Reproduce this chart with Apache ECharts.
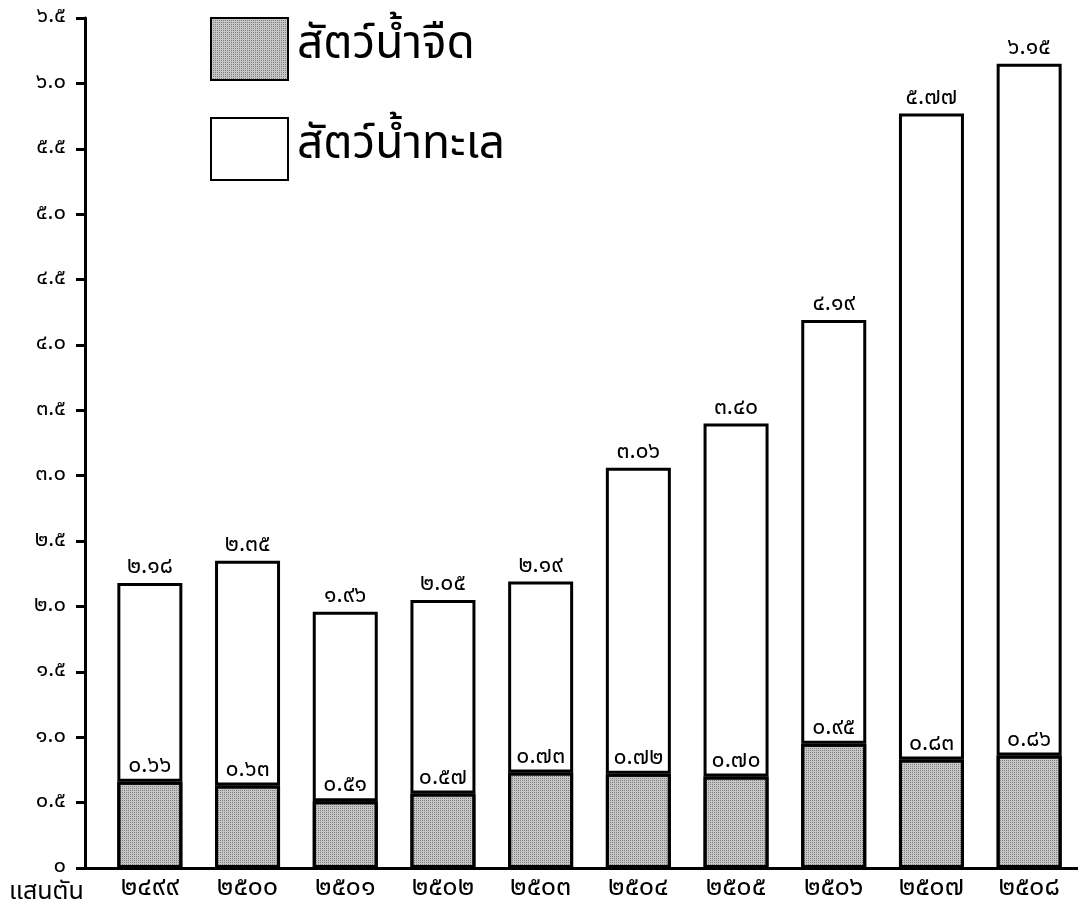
<!DOCTYPE html>
<html><head><meta charset="utf-8">
<script src="https://cdn.jsdelivr.net/npm/echarts@6/dist/echarts.min.js"></script>
<style>html,body{margin:0;padding:0;background:#fff}#c{width:1078px;height:913px}</style>
</head><body><div id="c"></div>
<script>
const categories = ['๒๔๙๙','๒๕๐๐','๒๕๐๑','๒๕๐๒','๒๕๐๓','๒๕๐๔','๒๕๐๕','๒๕๐๖','๒๕๐๗','๒๕๐๘'];
const freshwater = [0.66, 0.63, 0.51, 0.57, 0.73, 0.72, 0.70, 0.95, 0.83, 0.86];
const marine = [1.52, 1.72, 1.45, 1.48, 1.46, 2.34, 2.70, 3.24, 4.94, 5.29];
const totals = [2.18, 2.35, 1.96, 2.05, 2.19, 3.06, 3.40, 4.19, 5.77, 6.15];
const yTickLabels = ['๐','๐.๕','๑.๐','๑.๕','๒.๐','๒.๕','๓.๐','๓.๕','๔.๐','๔.๕','๕.๐','๕.๕','๖.๐','๖.๕'];
const seriesNames = ['สัตว์น้ำจืด','สัตว์น้ำทะเล'];
const unitLabel = 'แสนตัน';

const thaiDigits = '๐๑๒๓๔๕๖๗๘๙';
function toThai(v){ return v.toFixed(2).replace(/[0-9]/g, d => thaiDigits[+d]); }
const FONT = '"Noto Sans Thai","Loma","Garuda","Norasi","DejaVu Sans",sans-serif';

const chart = echarts.init(document.getElementById('c'));
chart.setOption({
  backgroundColor:'#fff',
  animation:false,
  textStyle:{fontFamily:FONT, color:'#000'},
  title:{text:unitLabel, left:4, bottom:2, textStyle:{fontFamily:FONT, fontSize:25, fontWeight:'normal', color:'#000'}},
  legend:{
    orient:'vertical', left:205, top:12, itemWidth:77, itemHeight:62, itemGap:36, icon:'rect',
    textStyle:{fontFamily:FONT, fontSize:46, color:'#000', padding:[14,0,0,4]},
    data:seriesNames
  },
  grid:[
    {left:101, right:0, top:18, bottom:45, containLabel:false},
    {left:80, right:0, top:18, bottom:45, containLabel:false}
  ],
  xAxis:[
    {type:'category', gridIndex:0, data:categories,
     axisLine:{show:false}, axisTick:{show:false},
     axisLabel:{fontFamily:FONT, fontSize:27, color:'#000', margin:8}},
    {type:'value', gridIndex:1, min:0, max:1, show:true,
     axisLine:{show:true, onZero:false, lineStyle:{color:'#000', width:3}},
     axisTick:{show:false}, axisLabel:{show:false}, splitLine:{show:false}}
  ],
  yAxis:[
    {type:'value', gridIndex:0, min:0, max:6.5, interval:0.5, offset:16,
     axisLine:{show:true, lineStyle:{color:'#000', width:3}},
     axisTick:{show:true, length:9, lineStyle:{color:'#000', width:3}},
     splitLine:{show:false},
     axisLabel:{fontFamily:FONT, fontSize:22, color:'#000', margin:19,
       formatter:(v, i)=> yTickLabels[i]}},
    {type:'value', gridIndex:1, show:false, min:0, max:1}
  ],
  series:[
    {name:seriesNames[0], type:'bar', stack:'a', data:freshwater, barWidth:65,
     xAxisIndex:0, yAxisIndex:0,
     itemStyle:{color:'#c6c6c6', borderColor:'#000', borderWidth:3,
       decal:{symbol:'rect', symbolSize:1, dashArrayX:[1,1], dashArrayY:[1,1], color:'rgba(70,70,70,0.55)', rotation:0}},
     label:{show:true, position:'top', distance:3, fontFamily:FONT, fontSize:23, color:'#000',
       formatter:p=>toThai(freshwater[p.dataIndex])}},
    {name:seriesNames[1], type:'bar', stack:'a', data:marine, barWidth:65,
     xAxisIndex:0, yAxisIndex:0,
     itemStyle:{color:'#fff', borderColor:'#000', borderWidth:3},
     label:{show:true, position:'top', distance:3, fontFamily:FONT, fontSize:23, color:'#000',
       formatter:p=>toThai(totals[p.dataIndex])}}
  ]
});
</script></body></html>
